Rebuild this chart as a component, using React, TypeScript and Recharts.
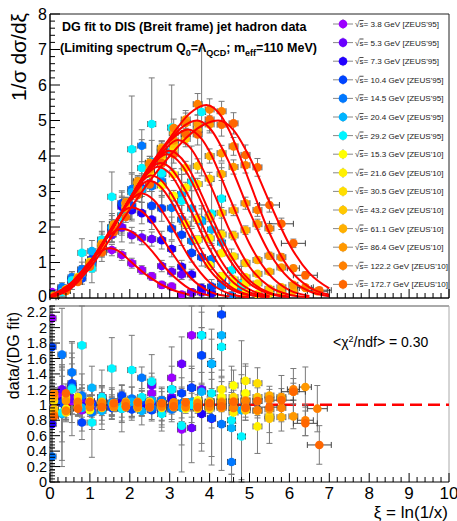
import React from 'react';
import { ComposedChart, Scatter, Line, XAxis, YAxis, ErrorBar, ReferenceLine, ReferenceArea } from 'recharts';

const FONT = "'Liberation Sans', Arial, Helvetica, sans-serif";

// ---- data: [xi, 1/sigma dsigma/dxi, err, data/fit, ratio err, (xerr)] ----
const S_3_8 = [
  [0.05,0.17,0.05,2.12,0.6],[0.3,0.27,0.06,1.12,0.25],[0.55,0.48,0.08,1.05,0.17],[0.8,0.71,0.1,0.93,0.13],
  [1.05,1.08,0.14,1.0,0.13],[1.3,1.39,0.15,1.04,0.11],[1.55,1.35,0.16,0.97,0.12],[1.8,1.21,0.15,0.96,0.12],
  [2.05,0.98,0.14,0.98,0.14],[2.3,0.79,0.12,1.02,0.16],[2.55,0.61,0.11,1.15,0.21],[2.8,0.37,0.1,0.97,0.26],
  [3.05,0.32,0.1,1.35,0.4],[3.3,0.1,0.08,0.68,0.55],[3.55,0.15,0.1,1.9,1.2],
];
const S_5_3 = [
  [0.05,0.07,0.05,0.95,0.5],[0.3,0.26,0.07,1.2,0.3],[0.55,0.48,0.1,1.08,0.2],[0.8,0.79,0.12,1.05,0.16],
  [1.05,1.0,0.15,0.92,0.14],[1.3,1.62,0.18,1.1,0.12],[1.55,1.78,0.2,0.98,0.11],[1.8,1.99,0.22,1.02,0.11],
  [2.05,1.77,0.22,0.95,0.12],[2.3,1.7,0.2,1.05,0.13],[2.55,1.66,0.2,1.25,0.16],[2.8,0.9,0.16,0.92,0.18],
  [3.05,0.74,0.14,1.1,0.22],[3.3,0.66,0.14,1.53,0.35],[3.55,0.16,0.1,0.7,0.45],[3.8,0.16,0.1,1.2,0.8],
];
const S_7_3 = [
  [0.05,0.05,0.05,0.75,0.6],[0.3,0.21,0.08,1.05,0.4],[0.55,0.53,0.12,1.25,0.28],[0.8,0.71,0.15,0.98,0.2],
  [1.05,1.1,0.2,1.02,0.18],[1.3,1.43,0.22,0.95,0.15],[1.55,1.96,0.25,1.0,0.13],[1.8,2.57,0.3,1.05,0.12],
  [2.05,2.47,0.3,0.97,0.12],[2.3,2.39,0.3,0.98,0.12],[2.55,2.21,0.28,1.03,0.13],[2.8,1.63,0.25,0.95,0.15],
  [3.05,1.38,0.22,1.07,0.17],[3.3,0.88,0.18,0.98,0.2],[3.55,0.66,0.15,1.22,0.28],[3.8,0.28,0.12,0.88,0.38],
  [4.05,0.13,0.1,0.82,0.6],
];
const S_10_4 = [
  [0.05,0.11,0.06,1.75,0.8],[0.3,0.2,0.1,1.02,0.5],[0.55,0.52,0.14,1.28,0.33],[0.8,0.55,0.16,0.77,0.22],
  [1.05,1.08,0.22,1.0,0.2],[1.3,1.62,0.26,1.08,0.17],[1.55,1.86,0.3,0.96,0.15],[1.8,2.67,0.35,1.12,0.14],
  [2.05,2.6,0.38,0.94,0.14],[2.3,3.1,0.4,1.05,0.13],[2.55,2.6,0.4,0.93,0.14],[2.8,2.52,0.36,1.02,0.15],
  [3.05,1.96,0.32,0.97,0.16],[3.3,1.78,0.3,1.15,0.2],[3.55,1.27,0.26,1.22,0.25],[3.8,1.15,0.25,1.64,0.36],
  [4.05,0.32,0.2,0.83,0.5],[4.3,0.52,0.2,2.17,0.8],
];
const S_14_5 = [
  [0.05,0.02,0.05,0.33,0.9],[0.3,0.31,0.12,1.65,0.6],[0.55,0.58,0.16,1.42,0.4],[0.8,0.81,0.2,1.12,0.28],
  [1.05,0.97,0.24,0.9,0.22],[1.3,1.58,0.28,1.05,0.19],[1.55,2.0,0.32,1.03,0.17],[1.8,2.26,0.38,0.95,0.16],
  [2.05,3.07,0.42,1.08,0.15],[2.3,4.29,0.45,1.35,0.14],[2.55,3.15,0.48,0.96,0.15],[2.8,3.29,0.45,1.06,0.15],
  [3.05,2.54,0.42,0.94,0.16],[3.3,2.21,0.4,1.02,0.19],[3.55,1.61,0.35,0.99,0.22],[3.8,2.19,0.32,1.9,0.3],
  [4.05,1.1,0.3,1.53,0.45],[4.3,0.34,0.25,0.75,0.6],[4.55,0.06,0.2,0.26,0.9],
];
const S_20_4 = [
  [0.05,0.06,0.06,1.08,0.8],[0.3,0.17,0.12,0.88,0.6],[0.55,0.5,0.18,1.22,0.45],[0.8,0.69,0.22,0.96,0.3],
  [1.05,1.32,0.3,1.22,0.28],[1.3,1.38,0.35,0.92,0.24],[1.55,1.98,0.4,1.02,0.2],[1.8,2.33,0.5,0.98,0.21],
  [2.05,2.98,0.55,1.04,0.19],[2.3,3.04,0.6,0.92,0.18],[2.55,3.84,0.6,1.06,0.17],[2.8,3.49,0.6,0.95,0.16],
  [3.05,4.14,0.6,1.2,0.17],[3.3,2.93,0.55,0.96,0.18],[3.55,2.52,0.5,1.04,0.2],[3.8,2.15,0.45,1.17,0.25],
  [4.05,1.93,0.4,1.53,0.32],[4.3,1.56,0.35,1.9,0.45],[4.55,0.34,0.3,0.7,0.6],[4.8,0.26,0.25,0.93,0.9],
];
const S_29_2 = [
  [0.05,0.07,0.1,1.12,0.9],[0.3,0.17,0.15,0.9,0.7],[0.55,0.49,0.25,1.2,0.6],[0.8,1.27,0.4,1.77,0.55],
  [1.05,0.83,0.4,0.77,0.45],[1.3,1.65,0.5,1.1,0.35],[1.55,2.85,0.7,1.47,0.4],[1.8,2.28,0.7,0.95,0.3],
  [2.05,4.19,1.5,1.45,0.45],[2.3,3.66,0.8,1.1,0.25],[2.55,4.9,1.3,1.3,0.35],[2.8,3.52,0.9,0.88,0.22],
  [3.05,4.8,1.2,1.2,0.3],[3.3,2.74,0.9,0.73,0.25],[3.55,3.28,1.0,1.0,0.3],[3.8,5.24,1.8,1.9,0.7],
  [4.05,2.38,0.9,1.15,0.45],[4.3,2.8,1.0,1.75,0.65],[4.55,0.78,0.6,0.8,0.7],[4.8,0.39,0.5,0.59,0.8],
];
const S_15_3 = [
  [0.1,0.07,0.02,1.12,0.1],[0.4,0.23,0.04,0.95,0.12],[0.7,0.58,0.06,1.05,0.1],[1.0,0.91,0.08,0.93,0.08],
  [1.3,1.52,0.1,1.03,0.07],[1.6,1.99,0.12,0.98,0.06],[1.9,2.65,0.14,1.02,0.06],[2.2,3.01,0.15,0.97,0.05],
  [2.5,3.58,0.17,1.04,0.05],[2.8,3.17,0.16,0.96,0.05],[3.1,2.88,0.15,1.01,0.05],[3.4,2.09,0.13,0.95,0.06],
  [3.7,1.64,0.11,1.06,0.07],[4.0,0.93,0.09,0.98,0.09],[4.3,0.61,0.07,1.1,0.13],[4.6,0.34,0.06,1.25,0.2],
  [4.9,0.14,0.05,1.15,0.35],
];
const S_21_6 = [
  [0.1,0.05,0.02,0.92,0.12],[0.4,0.24,0.04,1.1,0.12],[0.7,0.52,0.06,0.97,0.1],[1.0,1.02,0.08,1.05,0.08],
  [1.3,1.41,0.1,0.96,0.07],[1.6,2.06,0.12,1.02,0.06],[1.9,2.55,0.14,0.98,0.05],[2.2,3.24,0.16,1.03,0.05],
  [2.5,3.51,0.17,0.97,0.05],[2.8,3.88,0.18,1.02,0.05],[3.1,3.48,0.17,0.98,0.05],[3.4,3.11,0.15,1.03,0.05],
  [3.7,2.23,0.13,0.95,0.06],[4.0,1.68,0.11,1.04,0.07],[4.3,1.26,0.09,1.2,0.1],[4.6,0.52,0.07,0.9,0.14],
  [4.9,0.41,0.06,1.31,0.22],[5.2,0.11,0.05,0.72,0.35],
];
const S_30_5 = [
  [0.1,0.05,0.02,1.05,0.12],[0.4,0.2,0.04,0.9,0.12],[0.7,0.59,0.06,1.1,0.1],[1.0,0.93,0.08,0.97,0.08],
  [1.3,1.49,0.1,1.02,0.07],[1.6,1.97,0.12,0.98,0.06],[1.9,2.69,0.14,1.04,0.05],[2.2,3.01,0.16,0.96,0.05],
  [2.5,3.75,0.18,1.02,0.05],[2.8,4.01,0.2,0.99,0.05],[3.1,4.22,0.2,1.03,0.05],[3.4,3.67,0.18,0.97,0.05],
  [3.7,3.21,0.16,1.02,0.05],[4.0,2.29,0.14,0.95,0.06],[4.3,1.79,0.12,1.05,0.07],[4.6,1.17,0.09,1.1,0.09],
  [4.9,0.58,0.07,0.93,0.13],[5.2,0.41,0.06,1.28,0.2],[5.5,0.13,0.05,0.85,0.35],
];
const S_43_2 = [
  [0.1,0.05,0.02,0.95,0.12],[0.4,0.24,0.04,1.08,0.12],[0.7,0.52,0.06,0.96,0.1],[1.0,0.99,0.08,1.03,0.08],
  [1.3,1.43,0.1,0.97,0.07],[1.6,2.05,0.12,1.01,0.06],[1.9,2.56,0.14,0.98,0.05],[2.2,3.25,0.16,1.03,0.05],
  [2.5,3.59,0.18,0.97,0.05],[2.8,4.23,0.2,1.02,0.05],[3.1,4.33,0.22,0.98,0.05],[3.4,4.48,0.22,1.03,0.05],
  [3.7,3.72,0.2,0.96,0.05],[4.0,3.36,0.18,1.04,0.05],[4.3,2.4,0.15,0.98,0.06],[4.6,1.76,0.12,1.05,0.07],
  [4.9,0.99,0.09,0.93,0.09],[5.2,0.68,0.07,1.1,0.12],[5.5,0.26,0.05,0.82,0.18],[5.8,0.16,0.05,1.08,0.3],
];
const S_61_1 = [
  [0.1,0.06,0.02,1.1,0.12],[0.4,0.2,0.04,0.93,0.12],[0.7,0.55,0.06,1.02,0.1],[1.0,0.94,0.08,0.98,0.08],
  [1.3,1.54,0.1,1.04,0.07],[1.6,1.98,0.12,0.97,0.06],[1.9,2.66,0.14,1.02,0.05],[2.2,3.13,0.16,0.99,0.05],
  [2.5,3.81,0.18,1.03,0.05],[2.8,4.04,0.2,0.97,0.05],[3.1,4.64,0.22,1.02,0.05],[3.4,4.65,0.24,0.98,0.05],
  [3.7,4.74,0.22,1.03,0.05],[4.0,4.0,0.2,0.97,0.05],[4.3,3.49,0.18,1.04,0.05],[4.6,2.47,0.15,0.96,0.06],
  [4.9,1.91,0.12,1.06,0.07],[5.2,1.07,0.09,0.92,0.09],[5.5,0.74,0.07,1.12,0.12],[5.8,0.3,0.05,0.84,0.18],
  [6.1,0.2,0.05,1.17,0.3],
];
const S_86_4 = [
  [0.1,0.04,0.02,0.88,0.12],[0.4,0.23,0.04,1.05,0.12],[0.7,0.52,0.06,0.97,0.1],[1.0,0.98,0.08,1.03,0.08],
  [1.3,1.44,0.1,0.98,0.07],[1.6,2.07,0.12,1.02,0.06],[1.9,2.53,0.14,0.97,0.05],[2.2,3.29,0.16,1.04,0.05],
  [2.5,3.63,0.18,0.98,0.05],[2.8,4.2,0.2,1.01,0.05],[3.1,4.44,0.22,0.97,0.05],[3.4,5.03,0.25,1.03,0.05],
  [3.7,4.9,0.25,0.98,0.05],[4.0,4.89,0.24,1.02,0.05],[4.3,4.08,0.22,0.96,0.05],[4.6,3.69,0.2,1.04,0.05],
  [4.9,2.67,0.17,0.97,0.06],[5.2,2.08,0.14,1.05,0.07],[5.5,1.19,0.1,0.94,0.08],[5.8,0.86,0.08,1.1,0.11],
  [6.1,0.37,0.06,0.85,0.16],[6.4,0.28,0.05,1.23,0.26,0.15],
];
const S_122_2 = [
  [0.1,0.06,0.02,1.15,0.12],[0.4,0.2,0.04,0.92,0.12],[0.7,0.56,0.06,1.04,0.1],[1.0,0.92,0.08,0.97,0.08],
  [1.3,1.5,0.1,1.02,0.07],[1.6,1.99,0.12,0.98,0.06],[1.9,2.69,0.15,1.03,0.05],[2.2,3.08,0.18,0.97,0.05],
  [2.5,3.79,0.2,1.02,0.05],[2.8,4.12,0.22,0.98,0.05],[3.1,4.79,0.25,1.03,0.05],[3.4,4.93,0.28,0.97,0.05],
  [3.7,5.46,0.3,1.02,0.05],[4.0,5.31,0.3,0.98,0.05],[4.3,5.26,0.28,1.03,0.05],[4.6,4.27,0.25,0.96,0.06],
  [4.9,3.74,0.22,1.05,0.06],[5.2,2.48,0.18,0.93,0.07],[5.5,1.96,0.14,1.07,0.08],[5.8,1.15,0.1,0.96,0.1],
  [6.1,0.84,0.08,1.2,0.14,0.15],[6.4,0.3,0.06,0.8,0.2,0.2],[6.7,0.19,0.05,0.95,0.3,0.25],
];
const S_172_7 = [
  [0.1,0.03,0.02,0.85,0.12],[0.4,0.21,0.04,1.15,0.12],[0.7,0.45,0.06,0.95,0.1],[1.0,0.88,0.08,1.04,0.08],
  [1.3,1.28,0.1,0.97,0.07],[1.6,1.86,0.12,1.02,0.06],[1.9,2.28,0.15,0.98,0.05],[2.2,2.9,0.18,1.03,0.05],
  [2.5,3.2,0.2,0.97,0.05],[2.8,3.8,0.22,1.02,0.05],[3.1,4.05,0.25,0.98,0.05],[3.4,4.62,0.28,1.03,0.05],
  [3.7,4.61,0.3,0.97,0.05],[4.0,5.03,0.32,1.02,0.05],[4.3,4.88,0.32,0.98,0.05],[4.6,4.92,0.3,1.04,0.06],
  [4.9,4.03,0.28,0.96,0.06],[5.2,3.68,0.25,1.05,0.07],[5.5,2.62,0.2,0.97,0.08,0.25],[5.8,2.09,0.16,1.06,0.09,0.3],
  [6.1,1.54,0.12,1.17,0.11,0.3],[6.4,0.64,0.1,0.76,0.16,0.3],[6.75,0.22,0.08,0.48,0.25,0.3],
];

// ---- DG fit curves: [xi, value] ----
const F_3_8 = [[0,0.06],[0.5,0.4],[1.0,1.02],[1.25,1.3],[1.5,1.4],[1.75,1.3],[2.0,1.05],[2.5,0.58],[3.0,0.26],[3.5,0.09]];
const F_5_3 = [[0,0.05],[0.5,0.38],[1.0,1.02],[1.5,1.78],[1.8,1.95],[2.1,1.83],[2.5,1.39],[3.0,0.72],[3.5,0.26],[4.0,0.07]];
const F_7_3 = [[0,0.05],[0.5,0.36],[1.0,1.0],[1.5,1.9],[1.75,2.35],[2.05,2.55],[2.3,2.44],[2.5,2.22],[3.0,1.37],[3.5,0.6],[4.0,0.18],[4.5,0.04]];
const F_10_4 = [[0,0.04],[0.5,0.35],[1.0,1.0],[1.5,1.86],[2.0,2.72],[2.28,2.95],[2.6,2.76],[3.0,2.11],[3.5,1.13],[4.0,0.44],[4.5,0.12],[5.0,0.02]];
const F_14_5 = [[0,0.04],[0.5,0.34],[1.0,1.0],[1.5,1.85],[2.0,2.75],[2.48,3.3],[2.8,3.1],[3.0,2.79],[3.5,1.74],[4.0,0.79],[4.5,0.27],[5.0,0.07]];
const F_20_4 = [[0,0.04],[0.5,0.34],[1.0,1.0],[1.5,1.85],[2.0,2.78],[2.4,3.45],[2.7,3.7],[3.0,3.51],[3.5,2.53],[4.0,1.37],[4.5,0.54],[5.0,0.16],[5.5,0.04]];
const F_29_2 = [[0,0.04],[0.5,0.34],[1.0,1.0],[1.5,1.85],[2.0,2.8],[2.5,3.6],[2.75,3.95],[2.92,4.05],[3.3,3.75],[3.5,3.39],[4.0,2.18],[4.5,1.08],[5.0,0.41],[5.5,0.12],[6.0,0.03]];
const F_15_3 = [[0,0.03],[0.5,0.32],[1.0,0.98],[1.5,1.85],[2.0,2.78],[2.25,3.2],[2.52,3.45],[2.8,3.3],[3.0,3.01],[3.5,1.96],[4.0,0.95],[4.5,0.34],[5.0,0.09],[5.5,0.02]];
const F_21_6 = [[0,0.03],[0.5,0.3],[1.0,0.97],[1.5,1.84],[2.0,2.78],[2.4,3.5],[2.76,3.8],[3.0,3.68],[3.5,2.81],[4.0,1.62],[4.5,0.71],[5.0,0.24],[5.5,0.06]];
const F_30_5 = [[0,0.03],[0.5,0.3],[1.0,0.96],[1.5,1.83],[2.0,2.78],[2.5,3.62],[2.98,4.15],[3.3,3.93],[3.5,3.6],[4.0,2.41],[4.5,1.25],[5.0,0.5],[5.5,0.15],[6.0,0.04]];
const F_43_2 = [[0,0.03],[0.5,0.3],[1.0,0.96],[1.5,1.84],[2.0,2.8],[2.5,3.68],[2.85,4.15],[3.2,4.45],[3.5,4.25],[4.0,3.23],[4.5,1.91],[5.0,0.88],[5.5,0.32],[6.0,0.09],[6.5,0.02]];
const F_61_1 = [[0,0.03],[0.5,0.3],[1.0,0.96],[1.5,1.85],[2.0,2.8],[2.5,3.7],[3.0,4.42],[3.45,4.75],[3.8,4.48],[4.0,4.12],[4.5,2.83],[5.0,1.53],[5.5,0.66],[6.0,0.22],[6.5,0.06]];
const F_86_4 = [[0,0.03],[0.5,0.3],[1.0,0.95],[1.5,1.84],[2.0,2.8],[2.5,3.7],[3.0,4.45],[3.3,4.8],[3.68,5.0],[4.0,4.79],[4.5,3.79],[5.0,2.43],[5.5,1.27],[6.0,0.54],[6.5,0.19],[7.0,0.05]];
const F_122_2 = [[0,0.03],[0.5,0.3],[1.0,0.95],[1.5,1.84],[2.0,2.8],[2.5,3.72],[3.0,4.5],[3.5,5.2],[3.92,5.44],[4.3,5.11],[4.5,4.7],[5.0,3.27],[5.5,1.83],[6.0,0.82],[6.5,0.3],[7.0,0.09]];
const F_172_7 = [[0,0.02],[0.5,0.25],[1.0,0.85],[1.5,1.65],[2.0,2.5],[2.5,3.3],[3.0,4.0],[3.5,4.6],[3.85,4.88],[4.22,5.0],[4.6,4.73],[5.0,3.97],[5.5,2.7],[6.0,1.51],[6.5,0.7],[7.0,0.27]];

const LABELS = [
  "3.8 GeV [ZEUS'95]", "5.3 GeV [ZEUS'95]", "7.3 GeV [ZEUS'95]", "10.4 GeV [ZEUS'95]",
  "14.5 GeV [ZEUS'95]", "20.4 GeV [ZEUS'95]", "29.2 GeV [ZEUS'95]",
  "15.3 GeV [ZEUS'10]", "21.6 GeV [ZEUS'10]", "30.5 GeV [ZEUS'10]", "43.2 GeV [ZEUS'10]",
  "61.1 GeV [ZEUS'10]", "86.4 GeV [ZEUS'10]", "122.2 GeV [ZEUS'10]", "172.7 GeV [ZEUS'10]",
];
const COLORS = [
  '#9c00ff', '#6a00ff', '#2200ff', '#0044ff', '#0078ff', '#00b4ff', '#00f4ff',
  '#ffff00', '#fff000', '#ffde00', '#ffc800', '#ffb000', '#ff9800', '#ff8000', '#ff6600',
];
const POINTS = [S_3_8, S_5_3, S_7_3, S_10_4, S_14_5, S_20_4, S_29_2, S_15_3, S_21_6, S_30_5, S_43_2, S_61_1, S_86_4, S_122_2, S_172_7];
const FITS = [F_3_8, F_5_3, F_7_3, F_10_4, F_14_5, F_20_4, F_29_2, F_15_3, F_21_6, F_30_5, F_43_2, F_61_1, F_86_4, F_122_2, F_172_7];
const DEFAULT_XERR = [0.1, 0.1, 0.1, 0.1, 0.1, 0.1, 0.1, 0.11, 0.11, 0.11, 0.11, 0.11, 0.11, 0.11, 0.11];

const X_DOMAIN = [0, 10];
const Y_TOP_DOMAIN = [0, 8];
const Y_BOT_DOMAIN = [0, 2.28];
const X_MAJOR = [0, 1, 2, 3, 4, 5, 6, 7, 8, 9, 10];
const X_TICKS = Array.from({ length: 51 }, (_, i) => Math.round(i * 2) / 10);
const Y_TOP_TICKS = Array.from({ length: 41 }, (_, i) => Math.round(i * 2) / 10);
const Y_BOT_TICKS = Array.from({ length: 58 }, (_, i) => Math.round(i * 4) / 100);

// error bars are clipped to the frame (as in the original), expressed as [minus, plus] offsets
const clip = (v: number, e: number, lo: number, hi: number) => [Math.max(0, Math.min(e, v - lo)), Math.max(0, Math.min(e, hi - v))];

const SERIES = LABELS.map((label, i) => ({
  label,
  color: COLORS[i],
  top: POINTS[i].map((p) => ({
    x: p[0], y: p[1],
    ey: clip(p[1], p[2], Y_TOP_DOMAIN[0], Y_TOP_DOMAIN[1]),
    ex: clip(p[0], p[5] ?? DEFAULT_XERR[i], X_DOMAIN[0], X_DOMAIN[1]),
  })),
  ratio: POINTS[i].map((p) => ({
    x: p[0], y: p[3],
    ey: clip(p[3], p[4], Y_BOT_DOMAIN[0], Y_BOT_DOMAIN[1]),
    ex: clip(p[0], p[5] ?? DEFAULT_XERR[i], X_DOMAIN[0], X_DOMAIN[1]),
  })),
  fit: FITS[i].map((p) => ({ x: p[0], y: p[1] })),
}));

const fmt = (v: number) => String(Math.round(v * 10) / 10);

function makeXTick(major: number, minor: number, showLabels: boolean) {
  return (p: any) => {
    const v = Number(p.payload.value);
    const isMajor = X_MAJOR.some((m) => Math.abs(m - v) < 1e-6);
    return (
      <g>
        <line x1={p.x} x2={p.x} y1={p.y} y2={p.y - (isMajor ? major : minor)} stroke="#000" strokeWidth={1} />
        {showLabels && isMajor ? (
          <text x={p.x} y={p.y + 17} textAnchor="middle" fontSize={17} fontFamily={FONT} fill="#000">{fmt(v)}</text>
        ) : null}
      </g>
    );
  };
}

function makeYTick(major: number, minor: number, step: number, fontSize: number, dyShift: number) {
  return (p: any) => {
    const v = Number(p.payload.value);
    const q = v / step;
    const isMajor = Math.abs(q - Math.round(q)) < 1e-6;
    return (
      <g>
        <line x1={p.x} x2={p.x + (isMajor ? major : minor)} y1={p.y} y2={p.y} stroke="#000" strokeWidth={1} />
        {isMajor ? (
          <text x={p.x - 3} y={p.y + (v === 0 ? dyShift : 0)} dy="0.36em" textAnchor="end" fontSize={fontSize} fontFamily={FONT} fill="#000">{fmt(v)}</text>
        ) : null}
      </g>
    );
  };
}

const dot = (color: string) => (p: any) => <circle cx={p.cx} cy={p.cy} r={4.3} fill={color} />;

function renderSeries(key: 'top' | 'ratio') {
  return SERIES.map((s, i) => (
    <Scatter key={key + i} data={s[key]} fill={s.color} shape={dot(s.color)} isAnimationActive={false}>
      <ErrorBar dataKey="ey" direction="y" width={3} stroke="#7a7a7a" strokeWidth={1} />
      <ErrorBar dataKey="ex" direction="x" width={3} stroke="#444" strokeWidth={1} />
    </Scatter>
  ));
}

export default function App() {
  return (
    <div style={{ position: 'absolute', left: 0, top: 0, width: 457, height: 521, background: '#fff', fontFamily: FONT }}>
      <div style={{ position: 'absolute', left: 0, top: 0 }}>
        <ComposedChart width={457} height={312} margin={{ top: 14, right: 8, bottom: 0, left: 0 }}>
          <XAxis type="number" dataKey="x" domain={X_DOMAIN} ticks={X_TICKS} interval={0} allowDataOverflow
            height={14} tickSize={0} tickMargin={0} tickLine={false} axisLine={{ stroke: '#000' }}
            tick={makeXTick(9, 5, false)} />
          <YAxis type="number" dataKey="y" domain={Y_TOP_DOMAIN} ticks={Y_TOP_TICKS} interval={0} allowDataOverflow
            width={50} tickSize={0} tickMargin={0} tickLine={false} axisLine={{ stroke: '#000' }}
            tick={makeYTick(10, 5, 1, 16, -2)} />
          <ReferenceArea x1={0} x2={10} y1={0} y2={8} fill="none" fillOpacity={0} stroke="#222" strokeWidth={1} />
          {renderSeries('top')}
          {SERIES.map((s, i) => (
            <Line key={'fit' + i} data={s.fit} dataKey="y" type="monotone" stroke="#ff0000" strokeWidth={2}
              dot={false} activeDot={false} isAnimationActive={false} zIndex={700} />
          ))}
        </ComposedChart>
      </div>
      <div style={{ position: 'absolute', left: 0, top: 300 }}>
        <ComposedChart width={457} height={221} margin={{ top: 6, right: 8, bottom: 0, left: 0 }}>
          <XAxis type="number" dataKey="x" domain={X_DOMAIN} ticks={X_TICKS} interval={0} allowDataOverflow
            height={39} tickSize={0} tickMargin={0} tickLine={false} axisLine={{ stroke: '#000' }}
            tick={makeXTick(9, 5, true)} />
          <YAxis type="number" dataKey="y" domain={Y_BOT_DOMAIN} ticks={Y_BOT_TICKS} interval={0} allowDataOverflow
            width={50} tickSize={0} tickMargin={0} tickLine={false} axisLine={{ stroke: '#000' }}
            tick={makeYTick(10, 5, 0.2, 14.5, 0)} />
          <ReferenceLine y={2.28} stroke="#aaa" strokeWidth={2} />
          <ReferenceLine x={10} stroke="#aaa" strokeWidth={1} />
          <ReferenceLine y={1} stroke="#ff0000" strokeWidth={2.5} strokeDasharray="12 6" />
          {renderSeries('ratio')}
        </ComposedChart>
      </div>
      <svg width={457} height={521} style={{ position: 'absolute', left: 0, top: 0, pointerEvents: 'none' }} fontFamily={FONT}>
        <text transform="translate(26,13) rotate(-90)" textAnchor="end" fontSize={21} fill="#000">1/σ dσ/dξ</text>
        <text transform="translate(19,312) rotate(-90)" textAnchor="end" fontSize={16} fill="#000">data/(DG fit)</text>
        <text x={448} y={518} textAnchor="end" fontSize={17} fill="#000">ξ = ln(1/x)</text>
        <text x={62} y={31} fontSize={12.5} fontWeight="bold" fill="#000">DG fit to DIS (Breit frame) jet hadron data</text>
        <text x={60} y={52} fontSize={12.5} fontWeight="bold" fill="#000">
          <tspan>(Limiting spectrum Q</tspan>
          <tspan dy={4} fontSize={9}>0</tspan>
          <tspan dy={-4}>=Λ</tspan>
          <tspan dy={4} fontSize={9}>QCD</tspan>
          <tspan dy={-4}>; m</tspan>
          <tspan dy={4} fontSize={9}>eff</tspan>
          <tspan dy={-4}>=110 MeV)</tspan>
        </text>
        <text x={333} y={347} fontSize={14} fill="#000">
          <tspan>&lt;χ</tspan>
          <tspan dy={-5} fontSize={9}>2</tspan>
          <tspan dy={5}>/ndf&gt; = 0.30</tspan>
        </text>
        {SERIES.map((s, i) => {
          const cy = 24 + 18.6 * i;
          return (
            <g key={'lg' + i}>
              <line x1={333} x2={353} y1={cy} y2={cy} stroke="#888" strokeWidth={1} />
              <line x1={343} x2={343} y1={cy - 5} y2={cy + 5} stroke="#888" strokeWidth={1} />
              <circle cx={343} cy={cy} r={4.3} fill={s.color} />
              <text x={355} y={cy + 3} fontSize={8.1} fill="#222">
                <tspan>√</tspan>
                <tspan style={{ textDecoration: 'overline' }}>s</tspan>
                <tspan>= {s.label}</tspan>
              </text>
            </g>
          );
        })}
      </svg>
    </div>
  );
}
